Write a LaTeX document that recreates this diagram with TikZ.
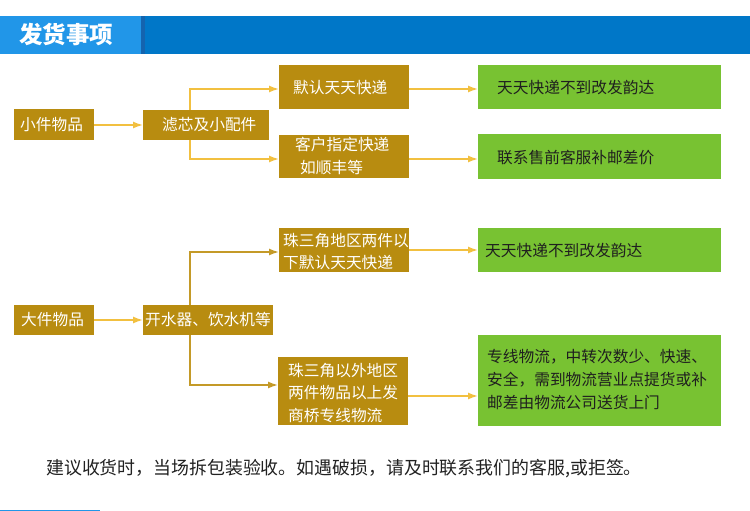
\documentclass[tikz,border=0pt]{standalone}
\usepackage{fontspec}
\setmainfont{Noto Sans CJK SC}
\usetikzlibrary{arrows.meta}
\definecolor{gold}{RGB}{184,140,16}
\definecolor{lightarrow}{RGB}{242,192,64}
\definecolor{darkarrow}{RGB}{196,154,40}
\definecolor{grn}{RGB}{120,194,50}
\definecolor{hdrlight}{RGB}{33,150,232}
\definecolor{hdrdark}{RGB}{0,119,200}
\definecolor{hdredge}{RGB}{20,100,175}
\tikzset{
  boxtext/.style={inner sep=0pt, anchor=west, font=\fontsize{15.7}{22.5}\selectfont},
  flowA/.style={draw=lightarrow, line width=1.5pt, -{Latex[length=10pt,width=7pt]}},
  flowB/.style={draw=darkarrow, line width=1.5pt, -{Latex[length=10pt,width=7pt]}},
}
\begin{document}
\begin{tikzpicture}[x=1pt,y=-1pt]
\useasboundingbox (0,0) rectangle (750,511);
\fill[white] (0,0) rectangle (750,511);
% header
\fill[hdrdark] (141,16) rectangle (750,54);
\fill[hdredge] (141,16) rectangle (145,54);
\fill[hdrlight] (0,16) rectangle (141,54);
\node[text=white, font=\fontsize{23.5}{23.5}\selectfont\bfseries, anchor=west, inner sep=0pt] (title) at (19,35) {发货事项};
% bottom line
\fill[hdrlight] (0,509.8) rectangle (100,511);

% ---------- top section ----------
\fill[gold] (14,109) rectangle (94,140);
\node[boxtext, text=white] (small) at (20,125) {小件物品};
\coordinate (smallE) at (94,125);

\fill[gold] (143,110) rectangle (269,140);
\node[boxtext, text=white] (filter) at (162,125) {滤芯及小配件};
\coordinate (filterW) at (143,125);
\coordinate (filterB) at (190,110);
\coordinate (filterC) at (190,140);

\fill[gold] (279,65) rectangle (409,109);
\node[boxtext, text=white] (deflt) at (293,88) {默认天天快递};
\coordinate (defltW) at (279,89);
\coordinate (defltE) at (409,89);

\fill[gold] (279,135) rectangle (409,178);
\node[boxtext, text=white, align=left] (cust) at (295,156) {客户指定快递\\\hspace{5pt}如顺丰等};
\coordinate (custW) at (279,159);
\coordinate (custE) at (409,159);

\fill[grn] (478,65) rectangle (721,109);
\node[boxtext, text=black!88] (g1) at (497,88) {天天快递不到改发韵达};
\coordinate (g1W) at (478,89);

\fill[grn] (478,134) rectangle (721,179);
\node[boxtext, text=black!88] (g2) at (497,158) {联系售前客服补邮差价};
\coordinate (g2W) at (478,159);

\draw[flowA] (smallE) -- (filterW);
\draw[flowA] (filterB) |- (defltW);
\draw[flowA] (filterC) |- (custW);
\draw[flowA] (defltE) -- (g1W);
\draw[flowA] (custE) -- (g2W);

% ---------- bottom section ----------
\fill[gold] (14,305) rectangle (94,335);
\node[boxtext, text=white] (big) at (21,320) {大件物品};
\coordinate (bigE) at (94,320);

\fill[gold] (143,305) rectangle (273,335);
\node[boxtext, text=white] (water) at (145,320) {开水器、饮水机等};
\coordinate (waterW) at (143,320);
\coordinate (waterB) at (190,305);
\coordinate (waterC) at (190,335);

\fill[gold] (279,228) rectangle (409,272);
\node[boxtext, text=white, align=left] (prd) at (283,251.5) {珠三角地区两件以\\下默认天天快递};
\coordinate (prdW) at (279,252);
\coordinate (prdE) at (409,250);

\fill[gold] (278,357) rectangle (408,425);
\node[boxtext, text=white, align=left] (outer) at (288,393) {珠三角以外地区\\两件物品以上发\\商桥专线物流};
\coordinate (outerW) at (278,385);
\coordinate (outerE) at (408,396);

\fill[grn] (478,228) rectangle (721,272);
\node[boxtext, text=black!88] (g3) at (485,251) {天天快递不到改发韵达};
\coordinate (g3W) at (478,250);

\fill[grn] (478,335) rectangle (721,426);
\node[boxtext, text=black!88, align=left, font=\fontsize{15.7}{23}\selectfont] (g4) at (487,380) {专线物流，中转次数少、快速、\\安全，需到物流营业点提货或补\\邮差由物流公司送货上门};
\coordinate (g4W) at (478,396);

\draw[flowA] (bigE) -- (waterW);
\draw[flowB] (waterB) |- (prdW);
\draw[flowB] (waterC) |- (outerW);
\draw[flowA] (prdE) -- (g3W);
\draw[flowA] (outerE) -- (g4W);

% footer
\node[inner sep=0pt, anchor=west, text=black!87, font=\fontsize{17.9}{20}\selectfont] (note) at (46,469) {建议收货时，当场拆包装验收。如遇破损，请及时联系我们的客服,或拒签。};
\end{tikzpicture}
\end{document}
